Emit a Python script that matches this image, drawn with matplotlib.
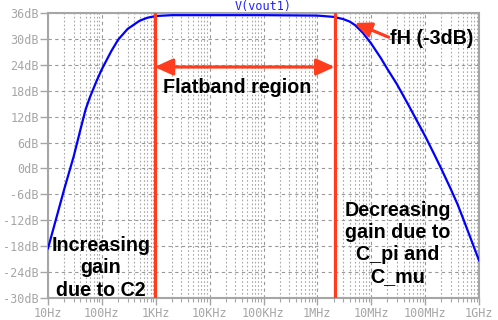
import matplotlib
matplotlib.use("Agg")
import matplotlib.pyplot as plt
from matplotlib.ticker import FixedLocator, NullFormatter, LogLocator

# ---- data ----
freq_hz = [10, 15, 20, 30, 40, 50, 60, 80, 100, 150, 200, 300, 500, 700,
           1e3, 2e3, 1e4, 1e5, 1e6, 2e6, 3e6, 4e6, 5e6, 7e6, 1e7, 1.5e7,
           2e7, 3e7, 5e7, 7e7, 1e8, 1.5e8, 2e8, 3e8, 4e8, 5e8, 7e8, 1e9]
gain_db = [-18.5, -10.5, -4.8, 2.8, 9.0, 13.7, 16.5, 20.3, 23.0, 27.2, 29.8,
           32.3, 34.2, 34.9, 35.3, 35.5, 35.5, 35.5, 35.4, 35.1, 34.6, 34.0,
           33.2, 31.4, 28.9, 25.6, 23.0, 19.5, 14.5, 11.1, 7.5, 3.1, -0.1,
           -4.8, -8.3, -11.4, -16.2, -21.3]

x_ticks = [1e1, 1e2, 1e3, 1e4, 1e5, 1e6, 1e7, 1e8, 1e9]
x_labels = ["10Hz", "100Hz", "1KHz", "10KHz", "100KHz", "1MHz", "10MHz",
            "100MHz", "1GHz"]
y_ticks = [36, 30, 24, 18, 12, 6, 0, -6, -12, -18, -24, -30]
y_labels = ["36dB", "30dB", "24dB", "18dB", "12dB", "6dB", "0dB", "-6dB",
            "-12dB", "-18dB", "-24dB", "-30dB"]

f_low = 950          # left marker line
f_high = 2.1e6       # right marker line
arrow_level = 23.5   # dB level of flatband arrow
fh_point = (4.9e6, 33.7)
fh_text = (2.1e7, 30.4)

title = "V(vout1)"

# ---- styling ----
W, H = 498, 320
fig = plt.figure(figsize=(W / 100, H / 100), dpi=100)
ax = fig.add_axes([48 / W, 1 - 298 / H, (479 - 48) / W, (298 - 13) / H])

gray = "#a6a6a6"
red = "#ff3c1e"
mono = "DejaVu Sans Mono"
bold_font = dict(family="Liberation Sans", weight="bold", size=14.2,
                 color="black")

ax.semilogx(freq_hz, gain_db, color="#0000ff", lw=1.6, zorder=4)
ax.set_xlim(10, 1e9)
ax.set_ylim(-30, 36)

ax.xaxis.set_major_locator(FixedLocator(x_ticks))
ax.set_xticklabels(x_labels)
ax.xaxis.set_minor_locator(LogLocator(base=10, subs=range(2, 10), numticks=20))
ax.xaxis.set_minor_formatter(NullFormatter())
ax.set_yticks(y_ticks)
ax.set_yticklabels(y_labels)

for lab in ax.get_xticklabels() + ax.get_yticklabels():
    lab.set_family(mono)
    lab.set_fontsize(8.5)
    lab.set_color(gray)

ax.tick_params(axis="y", which="major", length=6, width=1, color=gray, pad=0.5)
ax.tick_params(axis="x", which="major", length=5, width=1, color=gray, pad=1.5)
ax.tick_params(axis="x", which="minor", length=3, width=0.8, color=gray)

ax.grid(True, which="major", axis="both", color="#999999", lw=0.8,
        linestyle=(0, (3, 3)))
ax.grid(True, which="minor", axis="x", color="#a8a8a8", lw=0.8,
        linestyle=(0, (1.5, 2)))

for side, sp in ax.spines.items():
    sp.set_color(gray)
    sp.set_linewidth(1.5)

ax.set_title(title, family=mono, fontsize=8.5, color="#2020ff", pad=1.5)

# red markers
ax.axvline(f_low, color=red, lw=2.3, zorder=5)
ax.axvline(f_high, color=red, lw=2.3, zorder=5)
ax.annotate("", xy=(f_low, arrow_level), xytext=(f_high, arrow_level),
            arrowprops=dict(arrowstyle="<|-|>,head_length=1.1,head_width=0.5",
                            color=red, lw=2.3, shrinkA=0, shrinkB=0),
            zorder=5)
ax.annotate("", xy=fh_point, xytext=fh_text,
            arrowprops=dict(arrowstyle="-|>,head_length=1.0,head_width=0.45",
                            color=red, lw=2.3, shrinkA=0, shrinkB=0),
            zorder=5)

ax.text(3.3e4, 18.7, "Flatband region", ha="center", va="center", **bold_font)
ax.text(2.2e7, 30.2, "fH (-3dB)", ha="left", va="center", **bold_font)
ax.text(96, -23.0, "Increasing\ngain\ndue to C2", ha="center", va="center",
        linespacing=1.22, **bold_font)
ax.text(3.1e7, -17.4, "Decreasing\ngain due to\nC_pi and\nC_mu", ha="center",
        va="center", linespacing=1.22, **bold_font)

fig.savefig("out.png", dpi=100)
